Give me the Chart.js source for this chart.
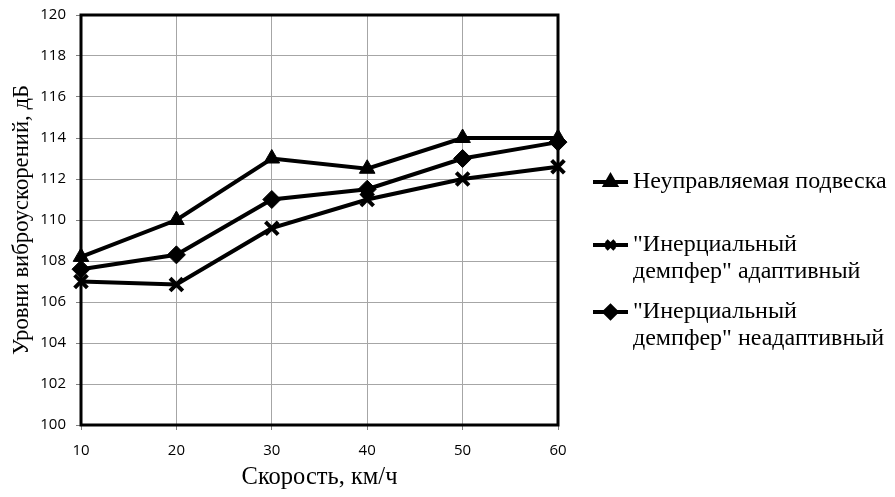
<!DOCTYPE html>
<html>
<head>
<meta charset="utf-8">
<script src="https://cdn.jsdelivr.net/npm/chart.js@4.4.1/dist/chart.umd.min.js"></script>
<style>
  html, body { margin: 0; padding: 0; background: #fff; }
  #wrap { width: 895px; height: 497px; }
</style>
</head>
<body>
<div id="wrap"><canvas id="chart"></canvas></div>
<script>
const speeds = [10, 20, 30, 40, 50, 60];
const uncontrolled = [108.2, 110.0, 113.0, 112.5, 114.0, 114.0];
const adaptive = [107.0, 106.85, 109.6, 111.0, 112.0, 112.6];
const nonAdaptive = [107.6, 108.3, 111.0, 111.5, 113.0, 113.8];

const seriesNames = [
  ['Неуправляемая подвеска'],
  ['"Инерциальный', 'демпфер" адаптивный'],
  ['"Инерциальный', 'демпфер" неадаптивный']
];

const serif = '"Liberation Serif", "Times New Roman", serif';
const sans = '"Open Sans", "Liberation Sans", sans-serif';

function toPoints(values) {
  return values.map((v, i) => ({ x: speeds[i], y: v }));
}

const frame = {
  id: 'frame',
  beforeDatasetsDraw(chart) {
    const { ctx, chartArea: a } = chart;
    ctx.save();
    ctx.strokeStyle = '#000';
    ctx.lineWidth = 3;
    ctx.strokeRect(a.left, a.top, a.right - a.left, a.bottom - a.top);
    ctx.restore();
  }
};

const sideLegend = {
  id: 'sideLegend',
  afterDraw(chart) {
    const { ctx, chartArea: a } = chart;
    const x0 = a.right + 35;
    const rows = [182, 245, 312];
    const lineGap = 27;
    ctx.save();
    chart.data.datasets.forEach((ds, i) => {
      const y = rows[i];
      ctx.strokeStyle = '#000';
      ctx.lineWidth = 4;
      ctx.beginPath();
      ctx.moveTo(x0, y);
      ctx.lineTo(x0 + 35, y);
      ctx.stroke();
      Chart.helpers.drawPoint(ctx, {
        pointStyle: ds.pointStyle,
        radius: 6,
        borderWidth: ds.pointStyle === 'crossRot' ? 4 : 1
      }, x0 + 17.5, y);
      ctx.fillStyle = '#000';
      ctx.font = '24px ' + serif;
      ctx.textBaseline = 'middle';
      ctx.textAlign = 'left';
      seriesNames[i].forEach((t, k) => ctx.fillText(t, x0 + 40, y + k * lineGap));
    });
    ctx.restore();
  }
};

function series(values, style, radius, bw) {
  return {
    data: toPoints(values),
    borderColor: '#000',
    backgroundColor: '#000',
    borderWidth: 4,
    pointStyle: style,
    pointRadius: radius,
    pointHoverRadius: radius,
    pointBorderWidth: bw,
    pointBackgroundColor: '#000',
    pointBorderColor: '#000',
    tension: 0,
    clip: false
  };
}

new Chart(document.getElementById('chart'), {
  type: 'line',
  data: {
    datasets: [
      series(uncontrolled, 'triangle', 9, 1),
      series(adaptive, 'crossRot', 9, 4),
      series(nonAdaptive, 'rectRot', 9, 1)
    ]
  },
  options: {
    responsive: true,
    maintainAspectRatio: false,
    animation: false,
    events: [],
    layout: { padding: { top: 15, right: 337, left: 0, bottom: 0 } },
    plugins: { legend: { display: false }, tooltip: { enabled: false } },
    scales: {
      x: {
        type: 'linear',
        min: 10,
        max: 60,
        afterFit(s) { s.height = 72; s.paddingLeft = 0; s.paddingRight = 0; },
        ticks: { stepSize: 10, color: '#000', font: { family: sans, size: 15 }, padding: 12 },
        grid: { color: '#a6a6a6', lineWidth: 1, tickLength: 5, tickColor: '#808080' },
        border: { display: false },
        title: {
          display: true,
          text: 'Скорость, км/ч',
          color: '#000',
          font: { family: serif, size: 24.5 },
          padding: { top: 0, bottom: 5 }
        }
      },
      y: {
        min: 100,
        max: 120,
        afterFit(s) { s.width = 81; s.paddingTop = 0; s.paddingBottom = 0; },
        ticks: { stepSize: 2, color: '#000', font: { family: sans, size: 15 }, padding: 10 },
        grid: { color: '#a6a6a6', lineWidth: 1, tickLength: 5, tickColor: '#808080' },
        border: { display: false },
        title: {
          display: true,
          text: 'Уровни виброускорений, дБ',
          color: '#000',
          font: { family: serif, size: 22.7 },
          padding: { top: 8, bottom: 0 }
        }
      }
    }
  },
  plugins: [frame, sideLegend]
});
</script>
</body>
</html>
